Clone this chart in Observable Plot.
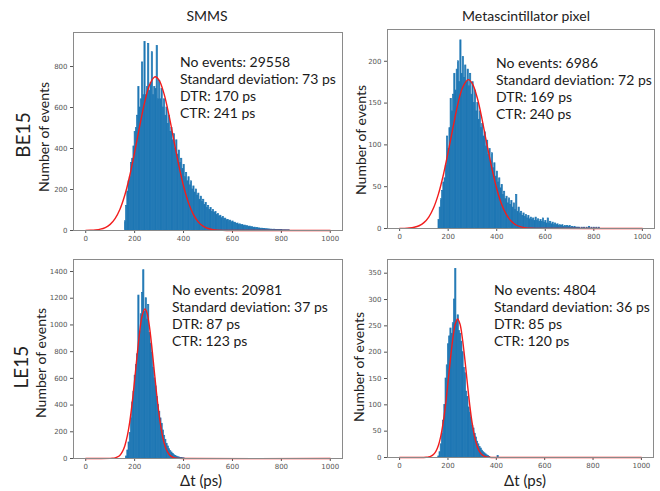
<!DOCTYPE html>
<html>
<head>
<meta charset="utf-8">
<script src="https://cdn.jsdelivr.net/npm/d3@7"></script>
<script src="https://cdn.jsdelivr.net/npm/@observablehq/plot@0.6"></script>
<style>
  body { margin: 0; background: #fff; }
  #wrap { position: relative; width: 660px; height: 491px; background: #fff; font-family: Lato, "Open Sans", sans-serif; color: #222; overflow: hidden; }
  .abs { position: absolute; white-space: nowrap; }
  .c { transform: translate(-50%, -50%); }
  .r { transform: translate(-50%, -50%) rotate(-90deg); }
  .ann { line-height: 17px; font-size: 14px; color: #1a1a1a; }
  svg { position: absolute; }
</style>
</head>
<body>
<div id="wrap"></div>
<script>
// ---------- data ----------
const binWidth = 5;
const xTicks = [0, 200, 400, 600, 800, 1000];
const columnTitles = ["SMMS", "Metascintillator pixel"];
const rowLabels = ["BE15", "LE15"];
const yLabel = "Number of events";
const xLabel = "Δt (ps)";

// BE15 / SMMS histogram (bins of 5 ps, first bin starts at 160 ps)
const be15SmmsStart = 160;
const be15SmmsCounts = [45,120,190,240,260,330,350,410,480,500,560,700,600,640,820,660,
  920,660,700,910,680,720,870,660,700,690,900,640,730,640,690,600,640,560,600,520,560,480,500,440,
  470,400,440,370,390,330,350,300,320,260,280,240,260,220,240,200,215,185,200,170,180,150,165,140,150,125,135,110,
  120,100,110,90,100,85,90,75,80,68,72,60,66,55,58,50,52,45,48,40,44,36,38,32,34,28,30,25,27,22,24,20,21,17,19,15,16,13,14,11,
  12,10,10,8,9,7,8,6,6,5,5,4,4,3,4,3,3,2,2,2,2,1,1,1,1,1,1];
const be15SmmsFitX = [0,20,40,60,80,100,120,140,160,180,200,220,240,260,280,285,300,320,340,360,380,400,420,440,460,480,500,520,540,560,580,600,1000];
const be15SmmsFitY = [0.4,1,2.7,6.5,14.5,30,58,104,173,267,381,505,620,707,748,750,734,668,565,442,322,217,136,79,42,21,9.8,4.2,1.7,0.6,0.2,0,0];
const be15SmmsYTicks = [0, 200, 400, 600, 800];
const be15SmmsYMax = 966;
const be15SmmsStats = ["No events: 29558", "Standard deviation: 73 ps", "DTR: 170 ps", "CTR: 241 ps"];

// BE15 / Metascintillator pixel
const be15MetaStart = 160;
const be15MetaCounts = [10,25,35,45,55,60,75,110,95,120,155,140,160,185,165,190,200,175,225,185,205,180,195,175,190,170,185,160,
  175,150,165,140,150,130,140,120,125,110,115,98,105,88,95,80,90,72,78,62,68,55,60,48,52,40,44,35,38,30,36,28,33,25,30,22,40,20,25,18,
  20,15,18,14,16,12,15,11,13,10,12,9,13,9,11,8,10,8,12,7,9,6,12,6,8,5,7,4,6,4,5,3,4,3,4,2,3,2,3,2,3,1,2,1,2,1,1,1,1,0,1,0,1,0,1,0,2,0,1,0,1,0,1,0,1];
const be15MetaFitX = [0,20,40,60,80,100,120,140,160,180,200,220,240,260,283,300,320,340,360,380,400,420,440,460,480,500,520,540,560,1000];
const be15MetaFitY = [0.1,0.2,0.6,1.5,3.3,7,13.7,24.8,41.4,64,91.6,121,149,169,178,173,156,130,100,72,47.5,29,16.5,8.7,4.2,1.9,0.8,0.3,0.1,0];
const be15MetaYTicks = [0, 50, 100, 150, 200];
const be15MetaYMax = 238;
const be15MetaStats = ["No events: 6986", "Standard deviation: 72 ps", "DTR: 169 ps", "CTR: 240 ps"];

// LE15 / SMMS
const le15SmmsStart = 165;
const le15SmmsCounts = [15,60,120,190,300,420,500,620,700,780,1220,950,1080,1240,1410,1100,1200,1040,1150,940,860,790,680,600,540,
  460,400,350,300,260,210,170,140,110,90,70,55,45,35,25,20,15,10,8,5,4,2,1];
const le15SmmsFitX = [0,50,100,110,120,130,140,150,160,170,180,190,200,210,220,230,242,250,260,270,280,290,300,310,320,330,340,350,360,370,380,400,1000];
const le15SmmsFitY = [0,0,0.7,1.9,4.9,11.5,25,51,96,169,275,417,588,770,938,1063,1120,1094,995,841,661,483,328,207,121,66,34,16,6.9,2.8,1.1,0,0];
const le15SmmsYTicks = [0, 200, 400, 600, 800, 1000, 1200, 1400];
const le15SmmsYMax = 1490;
const le15SmmsStats = ["No events: 20981", "Standard deviation: 37 ps", "DTR: 87 ps", "CTR: 123 ps"];

// LE15 / Metascintillator pixel
const le15MetaStart = 160;
const le15MetaCounts = [2,10,25,45,70,100,150,175,215,230,245,235,255,300,358,260,270,240,235,220,200,170,160,125,115,95,85,75,60,
  55,45,38,30,25,20,17,13,10,8,6,4,3,1,0,0,0,0,0,0,3];
const le15MetaFitX = [0,100,110,120,130,140,150,160,170,180,190,200,210,220,230,240,250,260,270,280,290,300,310,320,330,340,350,360,370,380,400,1000];
const le15MetaFitY = [0,0.1,0.4,1,2.5,5.6,11.5,22.3,39.7,65.6,100,142,186,225,253,263,253,225,186,142,100,65.6,39.7,22.3,11.5,5.6,2.5,1,0.4,0.1,0,0];
const le15MetaYTicks = [0, 50, 100, 150, 200, 250, 300, 350];
const le15MetaYMax = 376;
const le15MetaStats = ["No events: 4804", "Standard deviation: 36 ps", "DTR: 85 ps", "CTR: 120 ps"];

// ---------- drawing ----------
const wrap = document.getElementById("wrap");
const plain = d3.format("d");

function panel(opts) {
  const bins = opts.counts.map((c, i) => ({x1: opts.start + i * binWidth, x2: opts.start + (i + 1) * binWidth, y: c}));
  const fit = opts.fitX.map((x, i) => ({x, y: opts.fitY[i]}));
  const svg = Plot.plot({
    width: opts.width, height: opts.height,
    marginLeft: opts.marginLeft, marginRight: opts.marginRight, marginTop: 12, marginBottom: 20,
    style: {fontFamily: "DejaVu Sans", fontSize: "7px", color: "#555", background: "transparent", overflow: "visible"},
    x: {domain: [-50, 1050], ticks: xTicks, tickFormat: plain, tickSize: 3, tickPadding: 3, label: null},
    y: {domain: [0, opts.yMax], ticks: opts.yTicks, tickFormat: plain, tickSize: 3, tickPadding: 3, label: null},
    marks: [
      Plot.rect(bins, {x1: "x1", x2: "x2", y1: 0, y2: "y", fill: "#1f77b4", stroke: "#1f77b4", strokeWidth: 0.7, inset: 0}),
      Plot.line(fit, {x: "x", y: "y", stroke: "#f21d1d", strokeWidth: 1.4, curve: "catmull-rom"}),
      Plot.frame({stroke: "#8a8a8a"})
    ]
  });
  svg.style.left = opts.left + "px";
  svg.style.top = opts.top + "px";
  wrap.appendChild(svg);
}

function text(str, x, y, cls, size) {
  const d = document.createElement("div");
  d.className = "abs " + cls;
  d.style.left = x + "px";
  d.style.top = y + "px";
  d.style.fontSize = size + "px";
  d.textContent = str;
  wrap.appendChild(d);
}

function stats(lines, x, yFirstCenter) {
  const d = document.createElement("div");
  d.className = "abs ann";
  d.style.left = x + "px";
  d.style.top = (yFirstCenter - 8.5) + "px";
  d.innerHTML = lines.map(l => `<div>${l}</div>`).join("");
  wrap.appendChild(d);
}

panel({counts: be15SmmsCounts, start: be15SmmsStart, fitX: be15SmmsFitX, fitY: be15SmmsFitY, yMax: be15SmmsYMax, yTicks: be15SmmsYTicks,
  left: 0, top: 20, width: 345, height: 230, marginLeft: 73, marginRight: 3});
panel({counts: be15MetaCounts, start: be15MetaStart, fitX: be15MetaFitX, fitY: be15MetaFitY, yMax: be15MetaYMax, yTicks: be15MetaYTicks,
  left: 330, top: 17, width: 330, height: 231, marginLeft: 57, marginRight: 6});
panel({counts: le15SmmsCounts, start: le15SmmsStart, fitX: le15SmmsFitX, fitY: le15SmmsFitY, yMax: le15SmmsYMax, yTicks: le15SmmsYTicks,
  left: 0, top: 247, width: 345, height: 231, marginLeft: 73, marginRight: 3});
panel({counts: le15MetaCounts, start: le15MetaStart, fitX: le15MetaFitX, fitY: le15MetaFitY, yMax: le15MetaYMax, yTicks: le15MetaYTicks,
  left: 330, top: 247, width: 330, height: 230, marginLeft: 57, marginRight: 7});

text(columnTitles[0], 207, 15, "c", 14);
text(columnTitles[1], 526, 15, "c", 14);
text(rowLabels[0], 22, 135, "r", 19);
text(rowLabels[1], 20, 367, "r", 19);
text(yLabel, 43, 137, "r", 14);
text(yLabel, 360, 140, "r", 14);
text(yLabel, 40, 363, "r", 14);
text(yLabel, 358, 367, "r", 14);
text(xLabel, 201, 480, "c", 15);
text(xLabel, 525, 480, "c", 15);

stats(be15SmmsStats, 180, 61);
stats(be15MetaStats, 496, 62);
stats(le15SmmsStats, 172, 289);
stats(le15MetaStats, 494, 289);
</script>
</body>
</html>
